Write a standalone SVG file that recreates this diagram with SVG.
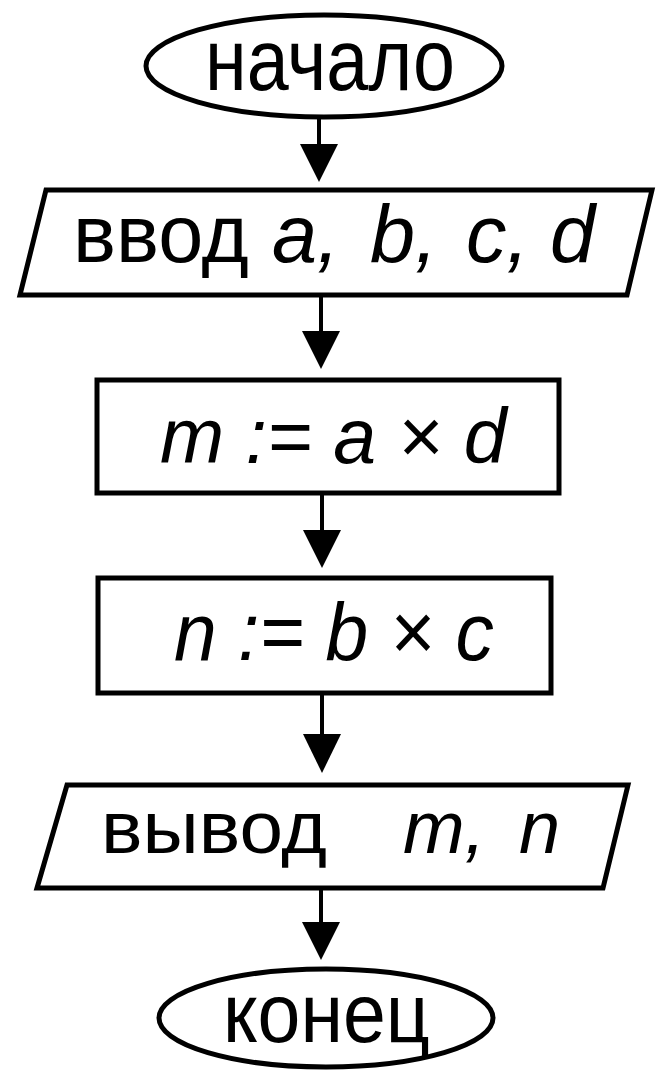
<svg xmlns="http://www.w3.org/2000/svg" width="656" height="1071" viewBox="0 0 656 1071">
<style>
.sh{fill:#fff;stroke:#000;stroke-width:5}
.ln{stroke:#000;stroke-width:4;fill:none}
.ah{fill:#000}
.t{font-family:"Liberation Sans",Arial,sans-serif;fill:#000}
.i{font-style:italic}
</style>
<rect width="656" height="1071" fill="#fff"/>
<g id="connectors">
<line class="ln" x1="319" y1="117" x2="319" y2="150"/>
<path class="ah" d="M300,144 L338,144 L319,182 Z"/>
<line class="ln" x1="321" y1="297" x2="321" y2="340"/>
<path class="ah" d="M302,331 L340,331 L321,369 Z"/>
<line class="ln" x1="322" y1="493" x2="322" y2="540"/>
<path class="ah" d="M303,530 L341,530 L322,568 Z"/>
<line class="ln" x1="322" y1="693" x2="322" y2="742"/>
<path class="ah" d="M303,734 L341,734 L322,773 Z"/>
<line class="ln" x1="321" y1="888" x2="321" y2="930"/>
<path class="ah" d="M302,922 L340,922 L321,960 Z"/>
</g>
<g id="start">
<ellipse class="sh" cx="324" cy="66" rx="178" ry="51"/>
<text class="t" x="330" y="90" font-size="88" text-anchor="middle" textLength="250" lengthAdjust="spacingAndGlyphs">начало</text>
</g>
<g id="input">
<polygon class="sh" points="46,190 652,190 627,295 20,295"/>
<text class="t" y="262" font-size="81"><tspan x="73">ввод</tspan><tspan class="i" x="272">a,</tspan><tspan class="i" x="370">b,</tspan><tspan class="i" x="466">c,</tspan><tspan class="i" x="550">d</tspan></text>
</g>
<g id="calc-m">
<rect class="sh" x="97" y="380" width="462" height="113"/>
<text class="t i" x="160" y="463" font-size="77">m := a × d</text>
</g>
<g id="calc-n">
<rect class="sh" x="98" y="578" width="453" height="115"/>
<text class="t i" x="174" y="660" font-size="81" textLength="320" lengthAdjust="spacingAndGlyphs">n := b × c</text>
</g>
<g id="output">
<polygon class="sh" points="67,785 628,785 603,888 37,888"/>
<text class="t" y="853" font-size="74"><tspan x="101" textLength="226" lengthAdjust="spacingAndGlyphs">вывод</tspan><tspan class="i" x="403">m,</tspan><tspan class="i" x="519">n</tspan></text>
</g>
<g id="end">
<ellipse class="sh" cx="326" cy="1018" rx="167" ry="49"/>
<text class="t" x="223" y="1042" font-size="84" textLength="207" lengthAdjust="spacingAndGlyphs">конец</text>
</g>
</svg>
